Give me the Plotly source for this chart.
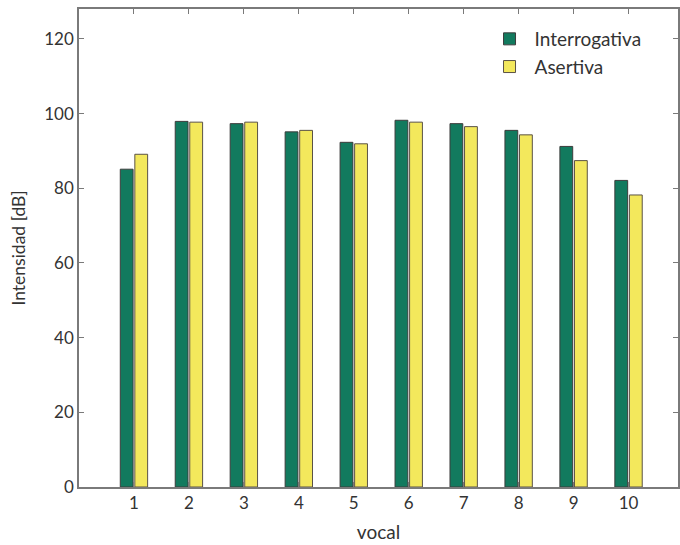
import plotly.graph_objects as go

vocales = [1, 2, 3, 4, 5, 6, 7, 8, 9, 10]
interrogativa = [85.1, 97.9, 97.3, 95.1, 92.3, 98.2, 97.3, 95.5, 91.2, 82.1]
asertiva = [89.1, 97.7, 97.7, 95.5, 91.9, 97.7, 96.5, 94.3, 87.4, 78.2]
y_ticks = [0, 20, 40, 60, 80, 100, 120]

FONT = "Lato, 'Open Sans', sans-serif"
AXIS_COLOR = "#7a7a7a"
TEXT = "#333333"

fig = go.Figure()
fig.add_trace(go.Bar(
    x=vocales, y=interrogativa, name="Interrogativa",
    marker=dict(color="#127a5e", line=dict(color="#3c3c3c", width=1)),
))
fig.add_trace(go.Bar(
    x=vocales, y=asertiva, name="Asertiva",
    marker=dict(color="#f3e85c", line=dict(color="#5a5246", width=1)),
))

fig.update_layout(
    width=680, height=545, autosize=False,
    margin=dict(l=79, r=0, t=9, b=58),
    paper_bgcolor="white", plot_bgcolor="white",
    barmode="group", bargap=0.47, bargroupgap=0.12,
    font=dict(family=FONT, size=16, color=TEXT),
    legend=dict(
        x=0.677, y=0.977, xanchor="left", yanchor="top",
        bgcolor="rgba(255,255,255,0)", borderwidth=0,
        font=dict(size=19, color=TEXT),
        itemwidth=40,
    ),
    showlegend=True,
)
fig.update_xaxes(
    range=[0, 10.9], tickvals=vocales, ticktext=[str(v) for v in vocales],
    showgrid=False, zeroline=False,
    showline=True, linecolor=AXIS_COLOR, linewidth=1.5, mirror="ticks",
    ticks="inside", ticklen=5, tickcolor=AXIS_COLOR,
    tickfont=dict(size=17, color=TEXT),
    title=dict(text="vocal", font=dict(size=19, color=TEXT), standoff=14),
)
fig.update_yaxes(
    range=[0, 128], tickvals=y_ticks,
    showgrid=False, zeroline=False,
    showline=True, linecolor=AXIS_COLOR, linewidth=1.5, mirror="ticks",
    ticks="inside", ticklen=5, tickcolor=AXIS_COLOR,
    tickfont=dict(size=17, color=TEXT),
    title=dict(text="Intensidad [dB]", font=dict(size=17.5, color=TEXT), standoff=14),
)

# Page styling: no body margin and no scrollbars, so the figure sits at the window's origin.
page_style = (
    "document.body.style.margin='0';"
    "document.body.style.overflow='hidden';"
    "document.documentElement.style.overflow='hidden';"
)

fig.write_html("out.html", post_script=page_style, config={"displayModeBar": False})
